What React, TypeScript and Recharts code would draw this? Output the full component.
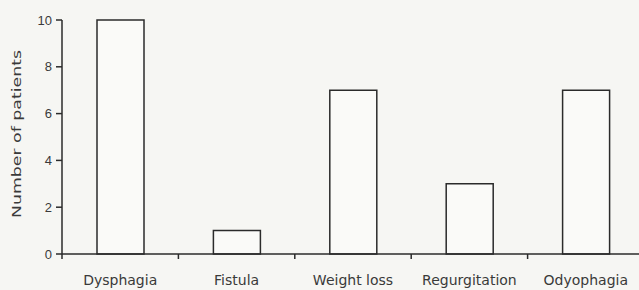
import React from 'react';
import { BarChart, Bar, XAxis, YAxis } from 'recharts';

const symptoms = ['Dysphagia', 'Fistula', 'Weight loss', 'Regurgitation', 'Odyophagia'];
const patients = [10, 1, 7, 3, 7];
const yTicks = [0, 2, 4, 6, 8, 10];

const data = symptoms.map((name, i) => ({ name, value: patients[i] }));

const ink = '#2b2b2b';

const CategoryTick = (props: any) => {
  const { x, y, payload } = props;
  const half = payload && payload.offset ? payload.offset : 58;
  return (
    <g>
      <line x1={x - half} y1={y} x2={x - half} y2={y + 5} stroke={ink} strokeWidth={1.5} />
      <text x={x} y={y + 31} textAnchor="middle" fill="#3a3a3a" fontSize={14} fontFamily="DejaVu Sans, Arial, sans-serif">
        {payload.value}
      </text>
    </g>
  );
};

const YLabel = (props: any) => {
  const vb = props.viewBox || { y: 20, height: 234 };
  const cy = vb.y + vb.height / 2 - 3;
  return (
    <text
      x={21}
      y={cy}
      transform={`rotate(-90, 21, ${cy})`}
      textAnchor="middle"
      fill="#3a3a3a"
      fontSize={13}
      fontFamily="DejaVu Sans, Arial, sans-serif"
      textLength={168}
      lengthAdjust="spacingAndGlyphs"
    >
      Number of patients
    </text>
  );
};

export default function App() {
  return (
    <div style={{ position: 'fixed', left: 0, top: 0, width: 639, height: 290, overflow: 'hidden', background: '#f6f6f3' }}>
      <BarChart width={660} height={290} data={data} margin={{ top: 20, right: 16, bottom: 0, left: 0 }}>
        <XAxis
          dataKey="name"
          height={36}
          axisLine={{ stroke: ink, strokeWidth: 1.5 }}
          tickLine={false}
          tickSize={0}
          tickMargin={0}
          interval={0}
          tick={<CategoryTick />}
        />
        <YAxis
          width={62}
          domain={[0, 10]}
          ticks={yTicks}
          axisLine={{ stroke: ink, strokeWidth: 1.5 }}
          tickLine={{ stroke: ink, strokeWidth: 1.5 }}
          tickSize={6}
          tickMargin={4}
          tick={{ fill: '#3a3a3a', fontSize: 13, fontFamily: 'Arial, sans-serif' }}
          label={<YLabel />}
        />
        <Bar dataKey="value" barSize={47} fill="#fafaf8" stroke={ink} strokeWidth={1.5} isAnimationActive={false} />
      </BarChart>
    </div>
  );
}
